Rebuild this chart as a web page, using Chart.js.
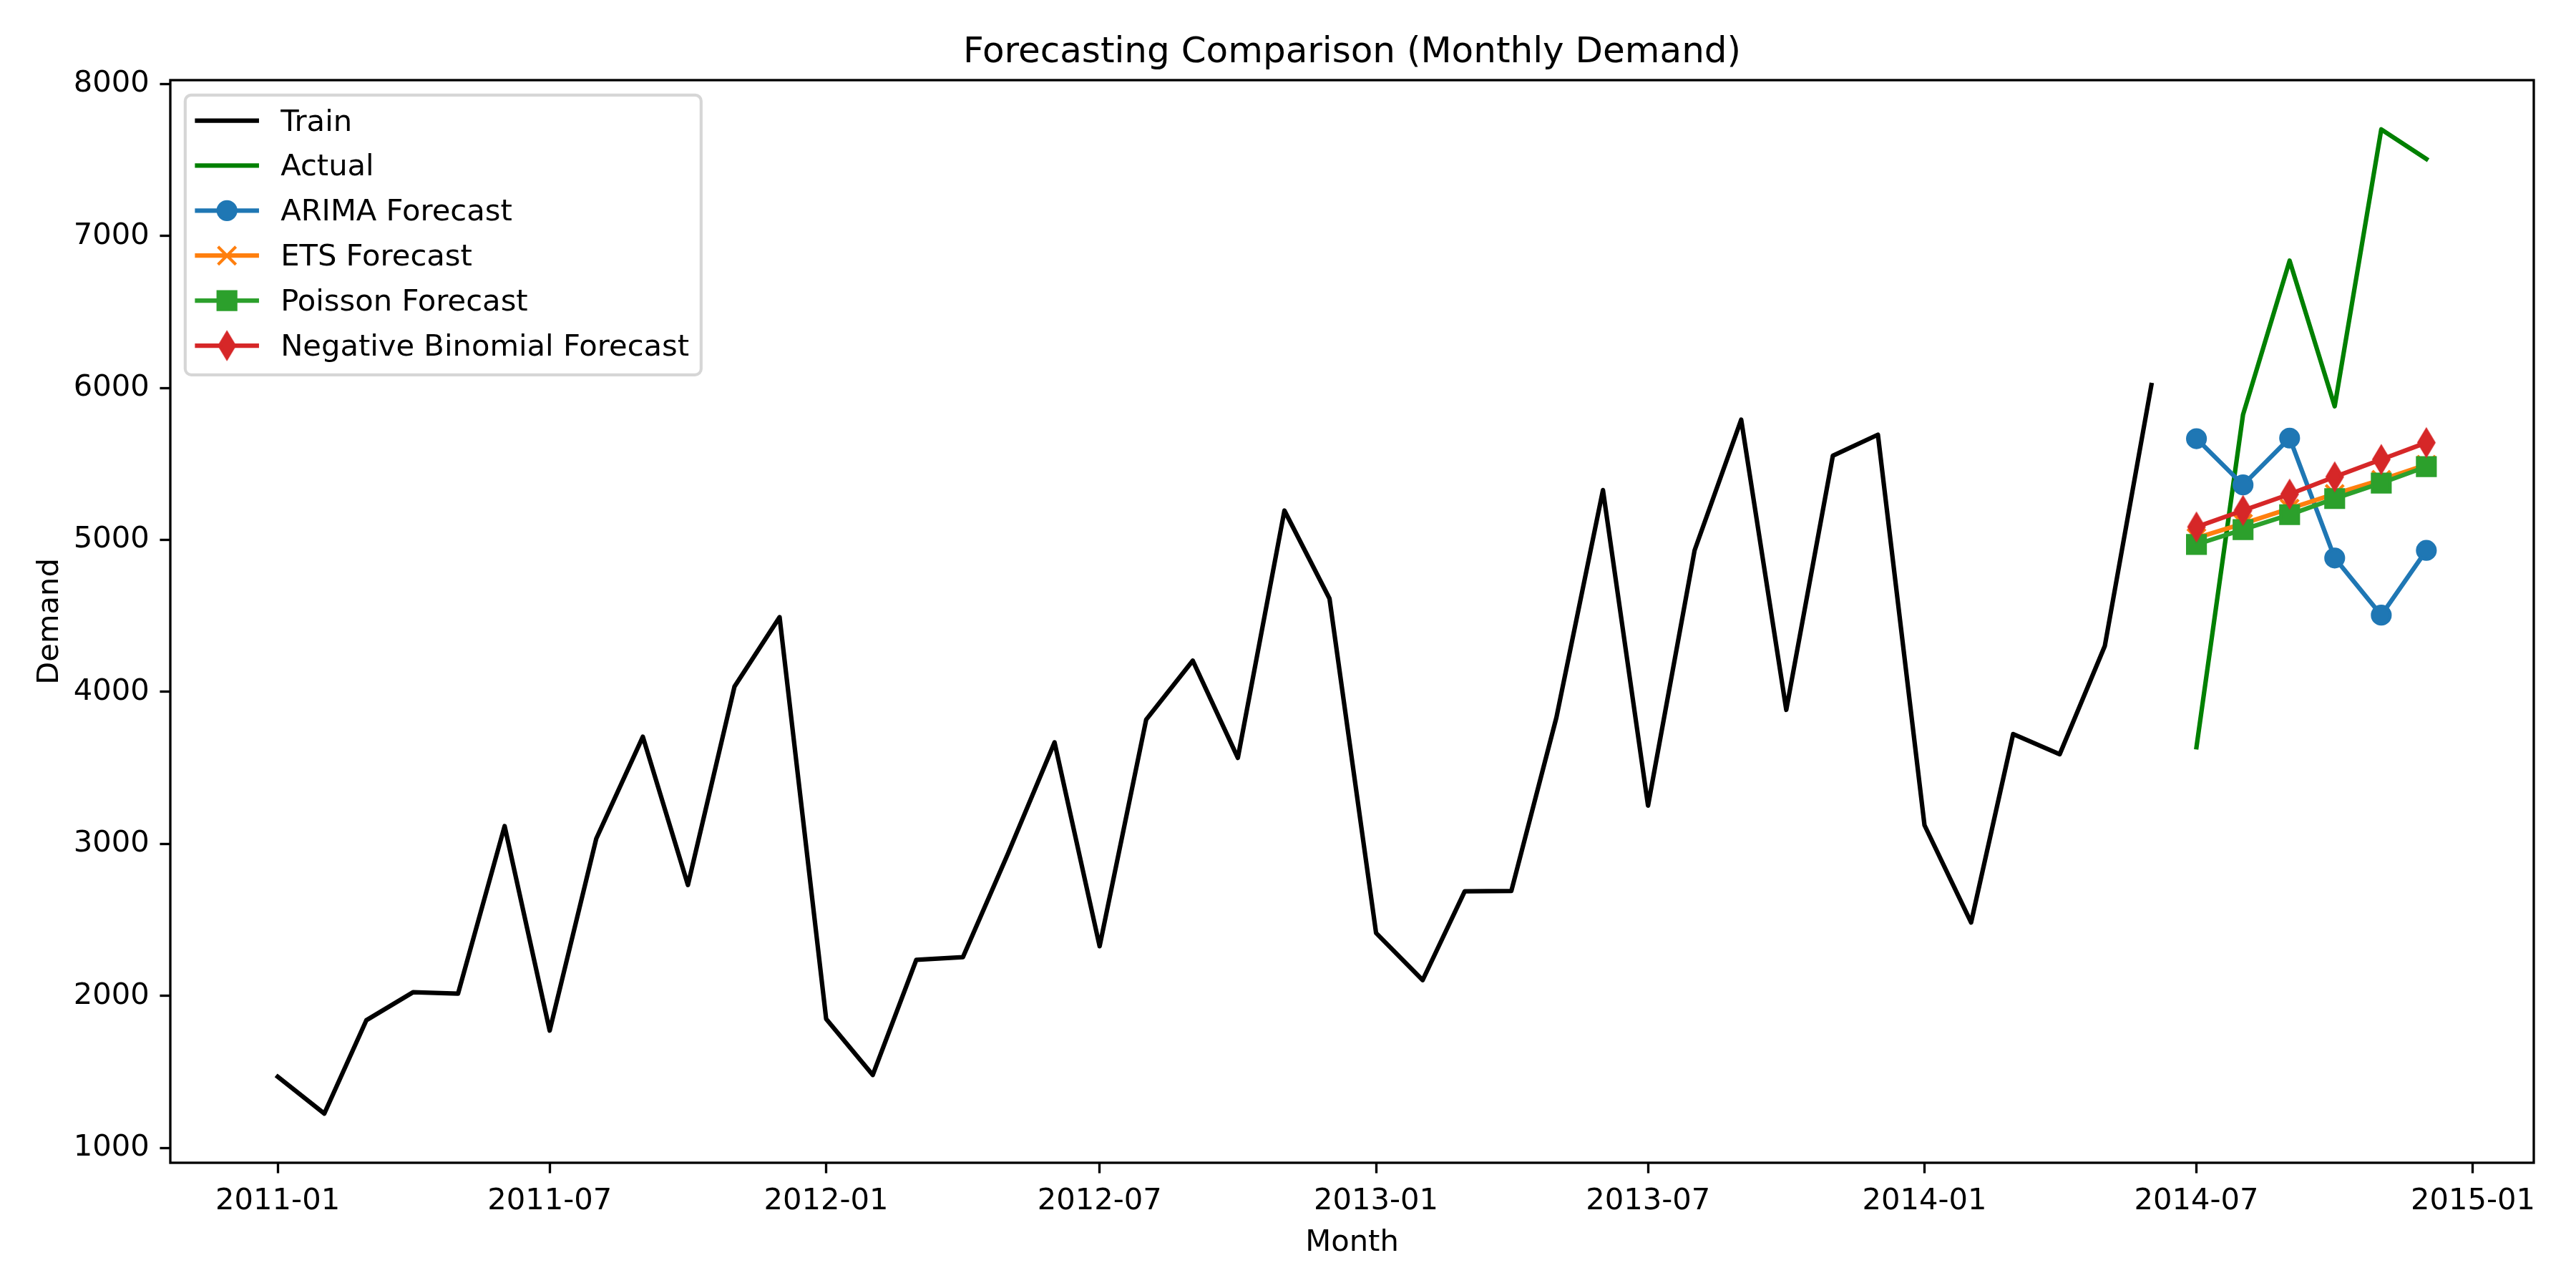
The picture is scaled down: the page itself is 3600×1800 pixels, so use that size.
<!DOCTYPE html>
<html>
<head>
<meta charset="utf-8">
<title>Forecasting Comparison (Monthly Demand)</title>
<script src="https://cdn.jsdelivr.net/npm/chart.js@4.4.1/dist/chart.umd.min.js"></script>
<style>
  html, body { margin: 0; padding: 0; background: #fff; }
  #graph { display: block; }
</style>
</head>
<body>
<canvas id="graph" width="3600" height="1800"></canvas>
<script>
// months of the training series and of the forecast window
const trainMonths = [
  "2011-01","2011-02","2011-03","2011-04","2011-05","2011-06","2011-07","2011-08","2011-09","2011-10","2011-11","2011-12",
  "2012-01","2012-02","2012-03","2012-04","2012-05","2012-06","2012-07","2012-08","2012-09","2012-10","2012-11","2012-12",
  "2013-01","2013-02","2013-03","2013-04","2013-05","2013-06","2013-07","2013-08","2013-09","2013-10","2013-11","2013-12",
  "2014-01","2014-02","2014-03","2014-04","2014-05","2014-06"
];
const testMonths = ["2014-07","2014-08","2014-09","2014-10","2014-11","2014-12"];

const train = [
  1468, 1226, 1840, 2024, 2015, 3117, 1772, 3035, 3705, 2730, 4035, 4492,
  1849, 1480, 2237, 2255, 2936, 3668, 2327, 3818, 4206, 3566, 5193, 4614,
  2414, 2104, 2688, 2690, 3831, 5328, 3252, 4932, 5791, 3882, 5554, 5692,
  3123, 2483, 3723, 3590, 4302, 6019
];
const actual = [3636, 5825, 6837, 5879, 7701, 7506];
const arima = [5666, 5362, 5670, 4881, 4505, 4931];
const ets = [5013, 5107, 5206, 5303, 5396, 5495];
const poisson = [4970, 5068, 5166, 5272, 5374, 5482];
const negBinomial = [5085, 5194, 5301, 5415, 5529, 5640];

const xTickLabels = ["2011-01","2011-07","2012-01","2012-07","2013-01","2013-07","2014-01","2014-07","2015-01"];
const yTickValues = [1000, 2000, 3000, 4000, 5000, 6000, 7000, 8000];

const PT = 300 / 72;            // one point in pixels (figure at 300 dpi)
const FONT = "'DejaVu Sans', sans-serif";
const FS = 10 * PT;

function toDay(m) {
  const [y, mo] = m.split("-").map(Number);
  return Date.UTC(y, mo - 1, 1) / 86400000;
}
function pts(months, values) {
  return months.map((m, i) => ({ x: toDay(m), y: values[i] }));
}

const xTickDays = xTickLabels.map(toDay);
const allDays = trainMonths.concat(testMonths).map(toDay);
const dMin = Math.min(...allDays), dMax = Math.max(...allDays);
const allVals = train.concat(actual, arima, ets, poisson, negBinomial);
const vMin = Math.min(...allVals), vMax = Math.max(...allVals);
const xMin = dMin - 0.05 * (dMax - dMin), xMax = dMax + 0.05 * (dMax - dMin);
const yMin = vMin - 0.05 * (vMax - vMin), yMax = vMax + 0.05 * (vMax - vMin);

// matplotlib's thin diamond marker 'd'
function thinDiamond(color) {
  const c = document.createElement("canvas");
  c.width = 34; c.height = 50;
  const g = c.getContext("2d");
  const h = 6 * PT * Math.SQRT2 / 2, w = h * 0.6;
  g.translate(17, 25);
  g.beginPath();
  g.moveTo(0, -h); g.lineTo(w, 0); g.lineTo(0, h); g.lineTo(-w, 0); g.closePath();
  g.fillStyle = color; g.fill();
  g.lineWidth = PT; g.lineJoin = "miter"; g.strokeStyle = color; g.stroke();
  return c;
}

function series(label, months, values, color, style, radius, order) {
  return {
    label: label,
    data: pts(months, values),
    borderColor: color,
    backgroundColor: color,
    borderWidth: 1.5 * PT,
    borderJoinStyle: "round",
    borderCapStyle: "square",
    pointStyle: style,
    pointRadius: style ? radius : 0,
    pointBorderWidth: PT,
    pointBackgroundColor: color,
    pointBorderColor: color,
    tension: 0,
    order: order
  };
}

const datasets = [
  series("Train", trainMonths, train, "#000000", false, 0, 6),
  series("Actual", testMonths, actual, "#008000", false, 0, 5),
  series("ARIMA Forecast", testMonths, arima, "#1f77b4", "circle", 3 * PT, 4),
  series("ETS Forecast", testMonths, ets, "#ff7f0e", "crossRot", 3 * PT / Math.SQRT1_2, 3),
  series("Poisson Forecast", testMonths, poisson, "#2ca02c", "rect", 3 * PT / Math.SQRT1_2, 2),
  series("Negative Binomial Forecast", testMonths, negBinomial, "#d62728", thinDiamond("#d62728"), 12, 1)
];

// title, frame and an in-axes legend the way matplotlib places them
const mplDecor = {
  id: "mplDecor",
  afterDatasetsDraw(chart) {
    const ctx = chart.ctx, a = chart.chartArea;
    ctx.save();
    ctx.lineWidth = 0.8 * PT;
    ctx.strokeStyle = "#000";
    ctx.strokeRect(a.left, a.top, a.right - a.left, a.bottom - a.top);
    ctx.restore();
  },
  afterDraw(chart) {
    const ctx = chart.ctx, a = chart.chartArea;
    ctx.save();
    ctx.fillStyle = "#000";
    ctx.font = (12 * PT) + "px " + FONT;
    ctx.textAlign = "center";
    ctx.textBaseline = "alphabetic";
    ctx.fillText("Forecasting Comparison (Monthly Demand)", (a.left + a.right) / 2, a.top - 25.3);

    ctx.font = FS + "px " + FONT;
    const sets = chart.data.datasets;
    let maxW = 0;
    sets.forEach(d => { maxW = Math.max(maxW, ctx.measureText(d.label).width); });
    const x0 = a.left + 0.5 * FS, y0 = a.top + 0.5 * FS;
    const pad = 0.4 * FS, handle = 2 * FS, gap = 0.8 * FS;
    const w = pad + handle + gap + maxW + pad;
    const h = 391;
    ctx.beginPath();
    ctx.roundRect(x0, y0, w, h, 0.2 * FS);
    ctx.fillStyle = "rgba(255,255,255,0.8)";
    ctx.fill();
    ctx.lineWidth = PT;
    ctx.strokeStyle = "rgba(204,204,204,0.8)";
    ctx.stroke();

    sets.forEach((d, i) => {
      const cy = y0 + 35.7 + i * 62.9;
      const hx0 = x0 + pad, hx1 = hx0 + handle;
      ctx.beginPath();
      ctx.moveTo(hx0, cy); ctx.lineTo(hx1, cy);
      ctx.lineWidth = d.borderWidth;
      ctx.lineCap = "square";
      ctx.strokeStyle = d.borderColor;
      ctx.stroke();
      if (d.pointStyle) {
        ctx.fillStyle = d.pointBackgroundColor;
        ctx.strokeStyle = d.pointBorderColor;
        ctx.lineWidth = d.pointBorderWidth;
        ctx.lineCap = "butt";
        Chart.helpers.drawPoint(ctx, {
          pointStyle: d.pointStyle, radius: d.pointRadius, borderWidth: d.pointBorderWidth, rotation: 0
        }, (hx0 + hx1) / 2, cy);
      }
      ctx.fillStyle = "#000";
      ctx.textAlign = "left";
      ctx.textBaseline = "alphabetic";
      ctx.fillText(d.label, hx1 + gap, cy + 14);
    });
    ctx.restore();
  }
};

const tickFont = { family: FONT, size: FS, lineHeight: 1.2 };

new Chart(document.getElementById("graph"), {
  type: "line",
  data: { datasets: datasets },
  plugins: [mplDecor],
  options: {
    responsive: false,
    animation: false,
    devicePixelRatio: 1,
    events: [],
    layout: { padding: { top: 112, right: 59, bottom: 0, left: 0 } },
    plugins: {
      legend: { display: false },
      tooltip: { enabled: false },
      title: { display: false }
    },
    scales: {
      x: {
        type: "linear",
        min: xMin,
        max: xMax,
        afterBuildTicks: s => { s.ticks = xTickDays.map(v => ({ value: v })); },
        afterFit: s => { s.height = 175; },
        grid: { display: true, drawOnChartArea: false, drawTicks: true, tickLength: 3.5 * PT, tickWidth: 0.8 * PT, tickColor: "#000" },
        border: { display: false },
        ticks: {
          autoSkip: false, maxRotation: 0, minRotation: 0, padding: 3.5 * PT, color: "#000", font: tickFont,
          callback: (v, i) => xTickLabels[i]
        },
        title: { display: true, text: "Month", color: "#000", font: tickFont, padding: { top: 0, bottom: 38 } }
      },
      y: {
        type: "linear",
        min: yMin,
        max: yMax,
        afterBuildTicks: s => { s.ticks = yTickValues.map(v => ({ value: v })); },
        afterFit: s => { s.width = 238; },
        grid: { display: true, drawOnChartArea: false, drawTicks: true, tickLength: 3.5 * PT, tickWidth: 0.8 * PT, tickColor: "#000" },
        border: { display: false },
        ticks: {
          autoSkip: false, padding: 3.5 * PT, color: "#000", font: tickFont,
          callback: v => String(v)
        },
        title: { display: true, text: "Demand", color: "#000", font: tickFont, padding: { top: 45, bottom: 0 } }
      }
    }
  }
});
</script>
</body>
</html>
